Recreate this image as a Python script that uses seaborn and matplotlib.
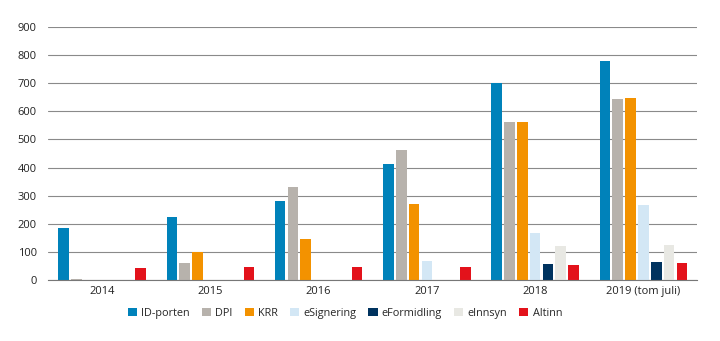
import matplotlib
matplotlib.use("Agg")
import matplotlib.pyplot as plt
import seaborn as sns
import pandas as pd
import numpy as np

years = ["2014", "2015", "2016", "2017", "2018", "2019 (tom juli)"]
services = ["ID-porten", "DPI", "KRR", "eSignering", "eFormidling", "eInnsyn", "Altinn"]
id_porten = [184, 225, 281, 413, 700, 779]
dpi = [3, 59, 332, 463, 561, 644]
krr = [0, 100, 145, 270, 561, 648]
esignering = [0, 0, 0, 69, 168, 267]
eformidling = [0, 0, 0, 0, 56, 63]
einnsyn = [0, 0, 0, 0, 121, 125]
altinn = [42, 45, 45, 45, 52, 59]
colors = ["#0082BA", "#B7B2AC", "#F39200", "#D3E7F5", "#00335F", "#E8E8E3", "#E3121B"]

series = [id_porten, dpi, krr, esignering, eformidling, einnsyn, altinn]
rows = []
for s, vals in zip(services, series):
    for y, v in zip(years, vals):
        rows.append({"year": y, "service": s, "value": v})
df = pd.DataFrame(rows)

sns.set_theme(style="white")
plt.rcParams["font.family"] = ["Open Sans", "DejaVu Sans"]

fig = plt.figure(figsize=(7.2, 3.41), dpi=100)
ax = fig.add_axes([0.0667, 0.179, 0.902, 0.742])
sns.barplot(data=df, x="year", y="value", hue="service", order=years,
            hue_order=services, palette=colors, width=0.83, gap=0.17,
            linewidth=0, saturation=1, ax=ax, legend=True)

ax.set_ylim(0, 900)
ax.set_yticks(np.arange(0, 901, 100))
ax.set_xlim(-0.5, len(years) - 0.5)
ax.yaxis.grid(True, color="#8a8a8a", linewidth=0.8)
ax.set_axisbelow(True)
for sp in ["top", "right", "left"]:
    ax.spines[sp].set_visible(False)
ax.spines["bottom"].set_color("#777777")
ax.spines["bottom"].set_linewidth(0.8)
ax.set_xlabel("")
ax.set_ylabel("")
ax.tick_params(axis="y", length=0, pad=8, labelsize=8, labelcolor="#222222")
ax.tick_params(axis="x", which="major", length=0, pad=4, labelsize=8, labelcolor="#222222")
ax.set_xticks(np.arange(-0.5, len(years), 1.0), minor=True)
ax.tick_params(axis="x", which="minor", length=4, width=0.8, color="#777777", direction="out")

handles, labels = ax.get_legend_handles_labels()
ax.legend_.remove()
fig.legend(handles, labels, loc="center", bbox_to_anchor=(0.479, 0.082), ncol=7,
           frameon=False, fontsize=7.8, handlelength=0.85, handleheight=0.85,
           handletextpad=0.4, columnspacing=1.1)

fig.savefig("out.png", dpi=100)
